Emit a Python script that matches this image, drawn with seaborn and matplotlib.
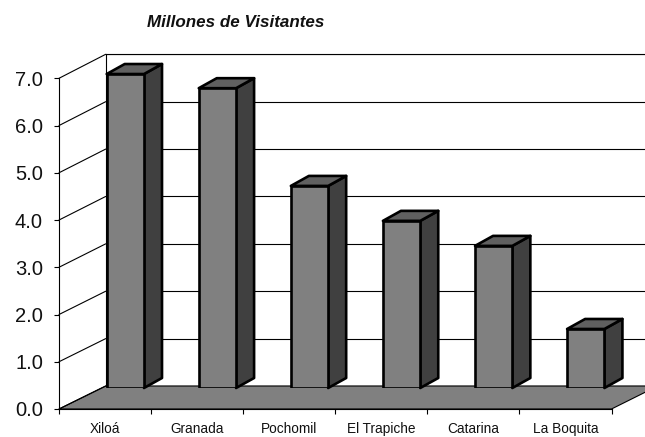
import numpy as np
import pandas as pd
import seaborn as sns
import matplotlib.pyplot as plt
from matplotlib.patches import ConnectionPatch, Polygon

# Values
places = ["Xiloá", "Granada", "Pochomil", "El Trapiche", "Catarina", "La Boquita"]
visitors = [6.65, 6.35, 4.28, 3.54, 3.01, 1.25]
y_ticks = [0, 1, 2, 3, 4, 5, 6, 7]
y_tick_labels = ["0.0", "1.0", "2.0", "3.0", "4.0", "5.0", "6.0", "7.0"]
title = "Millones de Visitantes"

W, H = 645, 437


def box(left, right, bottom, top):
    # axes rectangle from pixel edges, y measured from the top of the image
    return [left / W, 1 - bottom / H, (right - left) / W, (bottom - top) / H]


sns.set_style("white")
plt.rcParams["font.family"] = ["Liberation Sans", "DejaVu Sans"]

fig = plt.figure(figsize=(W / 100, H / 100), dpi=100, facecolor="white")

# Back wall with the gridlines
wall = fig.add_axes(box(105.7, 657.7, 386, 54.3), facecolor="none", zorder=1)
wall.set_xlim(0, 1)
wall.set_ylim(0, 7)
wall.set_xticks([])
wall.set_yticks(y_ticks)
wall.tick_params(left=False, labelleft=False)
wall.grid(axis="y", color="black", linewidth=0.8)
wall.set_axisbelow(True)
for side, show in [("left", True), ("top", True), ("right", False), ("bottom", False)]:
    wall.spines[side].set_visible(show)
    wall.spines[side].set_linewidth(0.8)
    wall.spines[side].set_color("black")

# Front frame, holds the real tick labels
ax = fig.add_axes(box(59, 611.5, 409, 78.3), facecolor="none", zorder=2)
ax.set_xlim(-0.5, 5.5)
ax.set_ylim(0, 7)
ax.set_yticks(y_ticks)
ax.set_yticklabels(y_tick_labels, fontsize=14.5, color="#111111")
ax.set_xticks(np.arange(len(places)))
ax.set_xticklabels(places, fontsize=9.8, color="#111111")
ax.set_xticks(np.arange(-0.5, 6, 1), minor=True)
ax.tick_params(axis="y", left=True, length=3.6, width=0.8, pad=8, color="black")
ax.tick_params(axis="x", which="major", bottom=False, pad=6)
ax.tick_params(axis="x", which="minor", bottom=True, length=3.6, width=0.8, color="black")
for side in ["top", "right"]:
    ax.spines[side].set_visible(False)
for side in ["left", "bottom"]:
    ax.spines[side].set_linewidth(0.8)
    ax.spines[side].set_color("black")

# Depth lines from the front ticks to the wall
for v in y_ticks:
    ax.add_artist(ConnectionPatch((-0.5, v), (0, v), coordsA=ax.transData,
                                  coordsB=wall.transData, color="black", linewidth=0.8))

# Floor
corners = [ax.transAxes.transform((0, 0)), ax.transAxes.transform((1, 0)),
           wall.transAxes.transform((1, 0)), wall.transAxes.transform((0, 0))]
corners = fig.transFigure.inverted().transform(np.array(corners))
fig.add_artist(Polygon(corners, closed=True, transform=fig.transFigure, facecolor="#808080",
                       edgecolor="black", linewidth=0.8, zorder=0.5))

# Bars stand a bit behind the front frame
bar_ax = fig.add_axes(box(79.3, 631.8, 388, 57.5), facecolor="none", zorder=3)
df = pd.DataFrame({"place": places, "visitors": visitors})
sns.barplot(data=df, x="place", y="visitors", color="#808080", saturation=1, width=0.405,
            edgecolor="black", linewidth=1.9, ax=bar_ax, zorder=3)
bar_ax.set_xlim(-0.5, 5.5)
bar_ax.set_ylim(0, 7)
bar_ax.axis("off")

# Side and top faces of each bar
dx = 18 / 92
dy = 10 / 47.2
for bar in list(bar_ax.patches):
    x0 = bar.get_x()
    x1 = x0 + bar.get_width()
    h = bar.get_height()
    side = Polygon([(x1, 0), (x1 + dx, dy), (x1 + dx, h + dy), (x1, h)], closed=True,
                   facecolor="#404040", edgecolor="black", linewidth=1.9,
                   joinstyle="round", clip_on=False, zorder=2)
    top = Polygon([(x0, h), (x0 + dx, h + dy), (x1 + dx, h + dy), (x1, h)], closed=True,
                  facecolor="#606060", edgecolor="black", linewidth=1.9,
                  joinstyle="round", clip_on=False, zorder=2)
    bar_ax.add_patch(side)
    bar_ax.add_patch(top)

fig.text(147 / W, 1 - 27 / H, title, fontsize=12.25, fontweight="bold", fontstyle="italic",
         color="#111111", ha="left", va="baseline")

fig.savefig("out.png", dpi=100)
